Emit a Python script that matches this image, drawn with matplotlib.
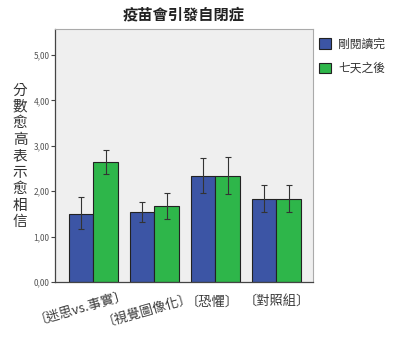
import numpy as np
import matplotlib.pyplot as plt

plt.rcParams['font.family'] = ['Noto Sans CJK TC', 'DejaVu Sans']

categories = ['〔迷思vs.事實〕', '〔視覺圖像化〕', '〔恐懼〕', '〔對照組〕']
series = ['剛閱讀完', '七天之後']
means_read = [1.50, 1.53, 2.33, 1.83]
means_week = [2.64, 1.67, 2.33, 1.83]
lo_read = [1.16, 1.32, 1.95, 1.54]
hi_read = [1.86, 1.76, 2.72, 2.14]
lo_week = [2.37, 1.39, 1.93, 1.54]
hi_week = [2.91, 1.95, 2.75, 2.14]
yticks = [0, 1, 2, 3, 4, 5]
ytick_labels = ['0,00', '1,00', '2,00', '3,00', '4,00', '5,00']

blue = '#3c55a5'
green = '#2eb64a'

fig = plt.figure(figsize=(4.0, 3.38), dpi=100)
ax = fig.add_axes([0.1375, 0.166, 0.645, 0.748])
ax.set_facecolor('#efefef')

x = np.arange(len(categories))
w = 0.4
err_r = [np.array(means_read) - np.array(lo_read), np.array(hi_read) - np.array(means_read)]
err_w = [np.array(means_week) - np.array(lo_week), np.array(hi_week) - np.array(means_week)]
ekw = dict(ecolor='#333333', elinewidth=0.8, capsize=2.5, capthick=0.8)
ax.bar(x - w / 2, means_read, w, color=blue, edgecolor='#222222', linewidth=0.8,
       yerr=err_r, error_kw=ekw, label=series[0])
ax.bar(x + w / 2, means_week, w, color=green, edgecolor='#222222', linewidth=0.8,
       yerr=err_w, error_kw=ekw, label=series[1])

ax.set_xlim(-0.63, 3.6)
ax.set_ylim(0, 5.57)
ax.set_yticks(yticks)
ax.set_yticklabels(ytick_labels, fontsize=6, color='#555555')
ax.tick_params(axis='y', length=3, width=0.8, color='#444444', pad=1)
ax.set_xticks(x)
ax.set_xticklabels([])
ax.tick_params(axis='x', length=0)

# category labels: long ones tilted, placed by hand
shift = [-0.21, -0.13, -0.05, 0.0]
ypos = [-0.095, -0.107, -0.079, -0.079]
rots = [16, 16, 0, 0]
for xi, lab, dx, yy, r in zip(x, categories, shift, ypos, rots):
    ax.text(xi + dx, yy, lab, transform=ax.get_xaxis_transform(), ha='center',
            va='center', rotation=r, rotation_mode='anchor', fontsize=9.5,
            color='#3a3a3a')

for s in ['top', 'right']:
    ax.spines[s].set_color('#aaaaaa')
    ax.spines[s].set_linewidth(0.8)
for s in ['left', 'bottom']:
    ax.spines[s].set_color('#444444')
    ax.spines[s].set_linewidth(0.9)

fig.text(0.46, 0.957, '疫苗會引發自閉症', ha='center', va='center',
         fontsize=11, fontweight='bold', color='#222222')
fig.text(0.05, 0.538, '\n'.join('分數愈高表示愈相信'), ha='center', va='center',
         fontsize=10.5, color='#333333', linespacing=1.22)

fig.legend(loc='upper left', bbox_to_anchor=(0.772, 0.92), frameon=False,
           fontsize=8.5, handlelength=1.0, handleheight=1.0, handletextpad=0.6,
           labelspacing=0.95)
for t in fig.legends[0].get_texts():
    t.set_color('#333333')

fig.savefig('out.png', dpi=100)
